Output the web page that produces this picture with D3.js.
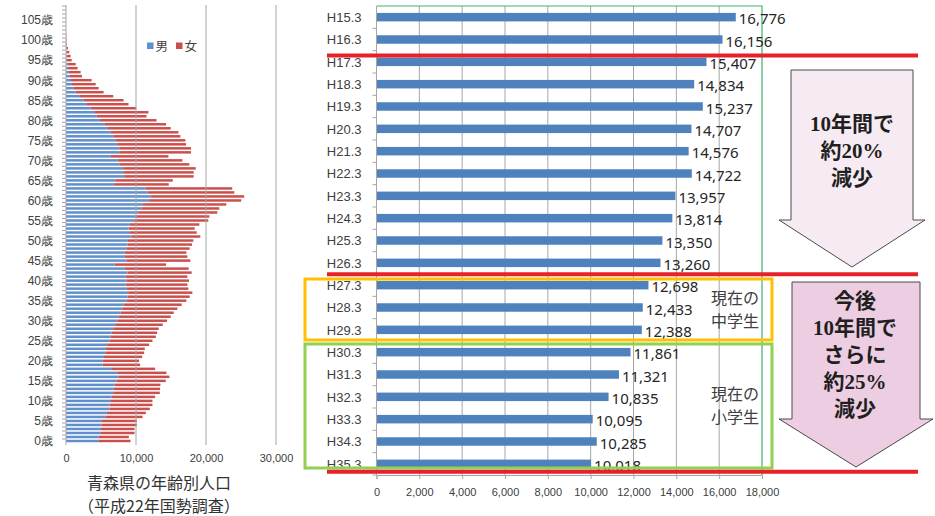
<!DOCTYPE html>
<html lang="ja">
<head>
<meta charset="utf-8">
<script src="https://cdn.jsdelivr.net/npm/d3@7"></script>
<style>
  body { margin: 0; background: #fff; }
  svg { display: block; font-family: "Noto Sans", "Noto Sans CJK JP", sans-serif; }
</style>
</head>
<body>
<svg id="chart" width="935" height="516"></svg>
<script>
// ---- pyramid data (Aomori, 2010 census) ----
const ages = [0,1,2,3,4,5,6,7,8,9,10,11,12,13,14,15,16,17,18,19,20,21,22,23,24,25,26,27,28,29,
  30,31,32,33,34,35,36,37,38,39,40,41,42,43,44,45,46,47,48,49,50,51,52,53,54,55,56,57,58,59,
  60,61,62,63,64,65,66,67,68,69,70,71,72,73,74,75,76,77,78,79,80,81,82,83,84,85,86,87,88,89,
  90,91,92,93,94,95,96,97,98,99,100,101,102,103,104,105,106,107,108,109,110];
const ageTicks = [0,5,10,15,20,25,30,35,40,45,50,55,60,65,70,75,80,85,90,95,100,105];
const ageTickLabels = ["0歳","5歳","10歳","15歳","20歳","25歳","30歳","35歳","40歳","45歳","50歳",
  "55歳","60歳","65歳","70歳","75歳","80歳","85歳","90歳","95歳","100歳","105歳"];
const male = [4610,4660,4990,4990,5040,5040,5610,5840,6220,6220,
  6410,6510,6750,6790,6940,7220,7550,7320,6460,5230,
  5230,5420,5610,5700,5890,6220,6370,6510,6750,7030,
  7320,7550,7790,8030,8220,8690,8790,8880,8690,8500,
  8650,8500,8790,8410,6940,8650,8410,8360,8650,8790,
  8840,9360,9030,8930,9120,9740,10020,10310,10740,10930,
  11880,12160,11640,11350,6840,7030,8310,8170,8170,7600,
  7360,6410,7600,7600,7310,7120,6750,6410,5890,5560,
  4850,4370,4130,3520,2990,2520,1900,1380,1050,860,
  710,520,380,300,220,150,110,80,50,30,
  20,10,0,0,0,0,0,0,0,0,0];
const female = [4610,4320,4800,4800,5080,5080,5320,5560,5750,6130,
  5940,6220,6650,6650,6550,7030,7220,7030,6270,5360,
  5220,5460,5550,5560,5990,6130,6460,6510,6500,6790,
  7120,7410,7600,7880,8310,8510,8880,9170,8790,8840,
  8930,8840,9170,9120,7360,9120,8930,8840,9020,9210,
  9350,9830,9640,9450,9930,10590,10460,11310,11160,11970,
  13150,13300,12400,12400,7840,8220,9930,10070,10360,10020,
  9270,8220,10260,10260,9840,9930,9590,9650,9070,8740,
  8080,7130,7650,6510,5940,5700,4850,3990,3610,3380,
  2950,1760,1710,1360,1160,660,555,395,235,110,
  80,50,0,0,0,0,0,0,0,0,0];
const sexLabels = ["男", "女"];
const popTicks = [0, 10000, 20000, 30000];
const pyramidTitle = ["青森県の年齢別人口", "（平成22年国勢調査）"];

// ---- students per year ----
const years = ["H15.3","H16.3","H17.3","H18.3","H19.3","H20.3","H21.3","H22.3","H23.3","H24.3","H25.3",
  "H26.3","H27.3","H28.3","H29.3","H30.3","H31.3","H32.3","H33.3","H34.3","H35.3"];
const students = [16776,16156,15407,14834,15237,14707,14576,14722,13957,13814,13350,
  13260,12698,12433,12388,11861,11321,10835,10095,10285,10018];
const studentTicks = [0,2000,4000,6000,8000,10000,12000,14000,16000,18000];
const arrowText1 = ["10年間で", "約20%", "減少"];
const arrowText2 = ["今後", "10年間で", "さらに", "約25%", "減少"];
const juniorText = ["現在の", "中学生"];
const primaryText = ["現在の", "小学生"];

const svg = d3.select("#chart");
const grid = "#a6a6a6", ink = "#404040";
const fmt = d3.format(",");

// multi-line text as one <text> with tspans
function textBlock(g, lines, cx, cy, size, gap, opts) {
  const t = g.append("text")
    .attr("text-anchor", "middle")
    .attr("font-size", size)
    .attr("font-weight", opts.bold ? 700 : 400)
    .attr("font-family", opts.family)
    .attr("fill", opts.fill);
  t.selectAll("tspan")
    .data(lines)
    .enter().append("tspan")
    .attr("x", cx)
    .attr("y", (d, i) => cy + i * gap)
    .text(d => d);
}

// ================= left: pyramid =================
const xL = d3.scaleLinear().domain([0, 30000]).range([66, 276]);
const yL = d3.scaleBand().domain(ages).range([443, -2]).paddingInner(0.38).paddingOuter(0.19);
const gL = svg.append("g");

const rows = ages.map((a, i) => ({ age: a, male: male[i], female: female[i] }));
const stacked = d3.stack().keys(["male", "female"])(rows);
const sexColors = ["#5f8fcc", "#c9504c"];

gL.selectAll("g.layer")
  .data(stacked)
  .enter().append("g")
  .attr("fill", (d, i) => sexColors[i])
  .selectAll("rect")
  .data(d => d)
  .enter().append("rect")
  .attr("x", d => xL(d[0]))
  .attr("y", d => yL(d.data.age))
  .attr("width", d => Math.max(0, xL(d[1]) - xL(d[0])))
  .attr("height", yL.bandwidth());

// gridlines (drawn over the thin bars)
gL.selectAll("line.grid")
  .data(popTicks)
  .enter().append("line")
  .attr("x1", d => xL(d)).attr("x2", d => xL(d))
  .attr("y1", 5).attr("y2", 445)
  .attr("stroke", grid).attr("stroke-width", 1);

// category boundary ticks
const edge = d => yL(d) - yL.step() * yL.paddingInner() / 2;
gL.selectAll("line.btick")
  .data(ages.filter(d => edge(d) > 4))
  .enter().append("line")
  .attr("x1", 62).attr("x2", 66)
  .attr("y1", edge).attr("y2", edge)
  .attr("stroke", grid);

const axL = gL.append("g")
  .attr("transform", "translate(66,0)")
  .call(d3.axisLeft(yL).tickValues(ageTicks).tickFormat((d, i) => ageTickLabels[i]).tickSize(0).tickPadding(13));
axL.select(".domain").remove();
axL.selectAll("text").attr("font-size", 12).attr("fill", ink).attr("dy", "0.36em");

const axLb = gL.append("g")
  .attr("transform", "translate(0,443)")
  .call(d3.axisBottom(xL).tickValues(popTicks).tickFormat(fmt).tickSize(0).tickPadding(11));
axLb.select(".domain").remove();
axLb.selectAll("text").attr("font-size", 11).attr("fill", ink);

// legend
const leg = gL.selectAll("g.leg")
  .data(sexLabels)
  .enter().append("g")
  .attr("transform", (d, i) => `translate(${147 + i * 29},0)`);
leg.append("rect").attr("x", 0).attr("y", 42.5).attr("width", 6.5).attr("height", 6.5)
  .attr("fill", (d, i) => sexColors[i]);
leg.append("text").attr("x", 8.5).attr("y", 51).attr("font-size", 12.5).attr("fill", ink)
  .attr("font-family", "Noto Sans CJK JP").text(d => d);

// title
textBlock(gL, pyramidTitle, 159, 489, 16, 23, { bold: false, family: "Noto Sans CJK JP", fill: "#333" });

// ================= right: students =================
const xR = d3.scaleLinear().domain([0, 18000]).range([376.5, 762]);
const yR = d3.scaleBand().domain(years).range([6, 475]).paddingInner(0.62).paddingOuter(0.31);
const gR = svg.append("g");

gR.selectAll("line.grid")
  .data(studentTicks.slice(1, -1))
  .enter().append("line")
  .attr("x1", d => xR(d)).attr("x2", d => xR(d))
  .attr("y1", 6).attr("y2", 475)
  .attr("stroke", grid);

gR.selectAll("rect.bar")
  .data(students)
  .enter().append("rect")
  .attr("x", xR(0))
  .attr("y", (d, i) => yR(years[i]))
  .attr("width", d => xR(d) - xR(0))
  .attr("height", yR.bandwidth())
  .attr("fill", "#4f81bd");

// plot border (green top/right)
gR.append("path")
  .attr("d", `M${xR(0)},6H${xR(18000)}V475`)
  .attr("fill", "none").attr("stroke", "#3bb36b").attr("stroke-width", 1.2);

// left axis with boundary ticks
gR.append("line").attr("x1", xR(0)).attr("x2", xR(0)).attr("y1", 6).attr("y2", 475).attr("stroke", grid);
gR.selectAll("line.btick")
  .data(years)
  .enter().append("line")
  .attr("x1", xR(0) - 4).attr("x2", xR(0))
  .attr("y1", d => yR(d) + yR.bandwidth() + yR.step() * yR.paddingInner() / 2)
  .attr("y2", d => yR(d) + yR.bandwidth() + yR.step() * yR.paddingInner() / 2)
  .attr("stroke", grid);

const axR = gR.append("g")
  .attr("transform", `translate(${xR(0)},0)`)
  .call(d3.axisLeft(yR).tickSize(0).tickPadding(15));
axR.select(".domain").remove();
axR.selectAll("text").attr("font-size", 13).attr("fill", ink).attr("dy", "0.36em");

const axRb = gR.append("g")
  .attr("transform", "translate(0,475)")
  .call(d3.axisBottom(xR).tickValues(studentTicks).tickFormat(fmt).tickSize(4).tickPadding(9));
axRb.select(".domain").attr("stroke", grid);
axRb.selectAll("line").attr("stroke", grid);
axRb.selectAll("text").attr("font-size", 11).attr("fill", ink);

// value labels
gR.selectAll("text.val")
  .data(students)
  .enter().append("text")
  .attr("x", d => xR(d) + 3)
  .attr("y", (d, i) => yR(years[i]) + yR.bandwidth() / 2 + 7)
  .attr("font-size", 15)
  .attr("fill", "#262626")
  .text(fmt);

// ---- annotations ----
const gA = svg.append("g");
function arrow(x0, x1, top, headY, hx0, hx1, tipX, tipY, fill) {
  gA.append("path")
    .attr("d", `M${x0},${top}H${x1}V${headY}H${hx1}L${tipX},${tipY}L${hx0},${headY}H${x0}Z`)
    .attr("fill", fill).attr("stroke", "#4a4a4a").attr("stroke-width", 1);
}
arrow(791, 913, 70, 220, 779, 925, 852, 267, "#f7ebf3");
arrow(792, 920, 282, 419, 779, 933, 856, 467, "#edcde1");

const bold = { bold: true, family: "'Liberation Serif', 'Noto Sans CJK JP'", fill: "#1f1f1f" };
textBlock(gA, arrowText1, 852, 131, 21, 27, bold);
textBlock(gA, arrowText2, 855, 308, 21, 27, bold);

// student boxes
gA.append("rect").attr("x", 305).attr("y", 279).attr("width", 467).attr("height", 61)
  .attr("fill", "none").attr("stroke", "#ffc000").attr("stroke-width", 3);
gA.append("rect").attr("x", 305).attr("y", 344).attr("width", 467).attr("height", 124)
  .attr("fill", "none").attr("stroke", "#92d050").attr("stroke-width", 3);

const plain = { bold: false, family: "Noto Sans CJK JP", fill: ink };
textBlock(gA, juniorText, 735, 304, 16, 23, plain);
textBlock(gA, primaryText, 735, 400, 16, 23, plain);

// red period separators
gA.selectAll("line.sep")
  .data([55.5, 274.3, 471.7])
  .enter().append("line")
  .attr("x1", 327).attr("x2", 918)
  .attr("y1", d => d).attr("y2", d => d)
  .attr("stroke", "#e8202a").attr("stroke-width", 4);
</script>
</body>
</html>
